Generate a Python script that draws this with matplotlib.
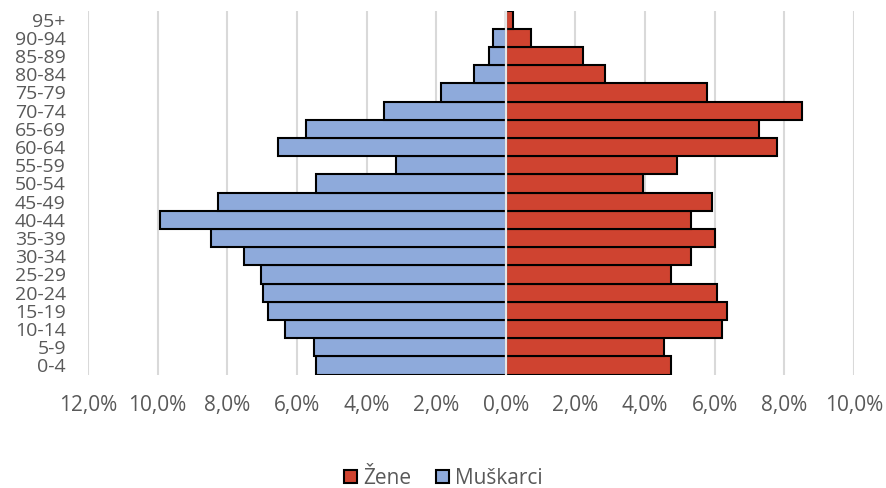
import matplotlib.pyplot as plt
import numpy as np

# age groups, bottom to top
age_groups = ['0-4', '5-9', '10-14', '15-19', '20-24', '25-29', '30-34', '35-39',
              '40-44', '45-49', '50-54', '55-59', '60-64', '65-69', '70-74',
              '75-79', '80-84', '85-89', '90-94', '95+']

# shares in %
muskarci = [5.46, 5.50, 6.33, 6.83, 6.96, 7.03, 7.53, 8.48, 9.92, 8.28,
            5.45, 3.16, 6.54, 5.75, 3.51, 1.87, 0.92, 0.48, 0.36, 0.0]
zene = [4.73, 4.54, 6.21, 6.36, 6.06, 4.74, 5.33, 6.01, 5.33, 5.93,
        3.95, 4.92, 7.79, 7.28, 8.51, 5.77, 2.86, 2.23, 0.72, 0.22]

x_ticks = [-12, -10, -8, -6, -4, -2, 0, 2, 4, 6, 8, 10]

red = '#CF4330'
blue = '#8EAADB'
grey_text = '#595959'
grid_col = '#D9D9D9'

plt.rcParams['font.family'] = ['Open Sans', 'DejaVu Sans']

fig = plt.figure(figsize=(8.87, 4.88), dpi=100)
ax = fig.add_axes([88 / 887, 1 - 374.5 / 488, 766 / 887, 364 / 488])

y = np.arange(len(age_groups))
ax.barh(y, zene, height=1.0, color=red, edgecolor='black', linewidth=1.5,
        label='Žene', zorder=3)
ax.barh(y, -np.array(muskarci), height=1.0, color=blue, edgecolor='black',
        linewidth=1.5, label='Muškarci', zorder=3)

# zero axis line drawn over the bars
ax.axvline(0, color='#E6E6E6', lw=1.6, zorder=4)

ax.set_xlim(-12, 10)
ax.set_ylim(-0.5, len(age_groups) - 0.5)
ax.set_xticks(x_ticks)
ax.set_xticklabels([f"{abs(v):.1f}".replace('.', ',') + '%' for v in x_ticks])
ax.set_yticks(y)
ax.set_yticklabels(age_groups)

ax.grid(axis='x', color=grid_col, lw=1.5, zorder=0)
ax.set_axisbelow(True)
for s in ax.spines.values():
    s.set_visible(False)
ax.tick_params(axis='x', length=0, pad=15, labelsize=15, labelcolor=grey_text)
ax.tick_params(axis='y', length=0, pad=16, labelsize=14, labelcolor=grey_text)

handles, labels = ax.get_legend_handles_labels()
fig.legend(handles, labels, loc='center', bbox_to_anchor=(0.5, 1 - 478 / 488),
           ncol=2, frameon=False, fontsize=15, labelcolor=grey_text,
           handlelength=0.6, handleheight=0.6, handletextpad=0.3,
           columnspacing=1.2)

fig.savefig('out.png', dpi=100)
